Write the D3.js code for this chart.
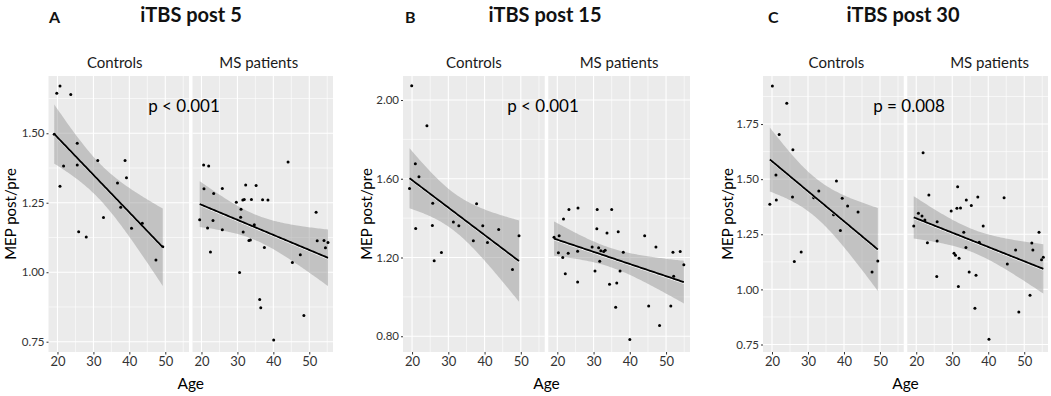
<!DOCTYPE html>
<html>
<head>
<meta charset="utf-8">
<script src="https://cdn.jsdelivr.net/npm/d3@7"></script>
<style>
  body { margin: 0; background: #fff; }
  svg { display: block; font-family: Lato, "Open Sans", sans-serif; }
</style>
</head>
<body>
<div id="chart"></div>
<script>
// ---- data (age in years, MEP post/pre ratio) ----
const post5ControlsAge = [19.8, 20.7, 23.7, 19.1, 20.7, 21.7, 25.5, 25.5, 25.9, 28.0, 31.2, 32.8, 36.7, 37.6, 38.8, 39.2, 40.6, 43.6, 47.4, 49.3];
const post5ControlsMep = [1.644, 1.670, 1.639, 1.496, 1.309, 1.382, 1.464, 1.386, 1.146, 1.127, 1.402, 1.197, 1.321, 1.234, 1.402, 1.340, 1.158, 1.176, 1.044, 1.092];
const post5PatientsAge = [19.5, 20.6, 22.0, 20.7, 21.7, 22.5, 23.2, 23.4, 25.8, 25.8, 29.7, 30.6, 30.9, 31.0, 31.5, 31.9, 31.6, 32.3, 33.2, 33.6, 33.9, 34.7, 35.2, 36.2, 36.5, 37.0, 37.5, 38.5, 40.1, 44.1, 45.3, 47.5, 48.5, 51.9, 52.2, 54.1, 54.5, 55.2];
const post5PatientsMep = [1.189, 1.386, 1.382, 1.300, 1.159, 1.073, 1.186, 1.283, 1.153, 1.301, 1.252, 0.999, 1.198, 1.227, 1.260, 1.262, 1.145, 1.314, 1.114, 1.116, 1.262, 1.171, 1.312, 0.902, 0.872, 1.261, 1.089, 1.260, 0.756, 1.397, 1.035, 1.063, 0.844, 1.216, 1.113, 1.114, 1.088, 1.107];

const post15ControlsAge = [19.9, 24.1, 19.3, 20.9, 21.9, 21.0, 25.7, 25.6, 26.1, 28.1, 31.4, 32.9, 36.9, 37.8, 39.5, 40.8, 43.9, 47.7, 49.5];
const post15ControlsMep = [2.073, 1.869, 1.551, 1.676, 1.610, 1.347, 1.475, 1.363, 1.183, 1.225, 1.380, 1.361, 1.285, 1.473, 1.361, 1.276, 1.342, 1.139, 1.310];
const post15PatientsAge = [19.1, 20.5, 20.3, 21.5, 21.7, 22.2, 23.0, 23.2, 25.6, 25.6, 25.7, 29.6, 30.4, 30.9, 31.0, 31.4, 31.7, 32.0, 32.8, 33.2, 33.7, 34.4, 35.0, 36.1, 36.4, 36.8, 37.3, 38.2, 40.0, 44.1, 45.2, 47.2, 48.2, 51.3, 51.9, 52.1, 53.9, 54.9];
const post15PatientsMep = [1.303, 1.310, 1.224, 1.200, 1.395, 1.117, 1.222, 1.444, 1.232, 1.075, 1.451, 1.254, 1.132, 1.346, 1.444, 1.249, 1.181, 1.234, 1.231, 1.237, 1.325, 1.064, 1.444, 0.947, 1.071, 1.331, 1.131, 1.227, 0.783, 1.310, 0.954, 1.253, 0.854, 0.954, 1.227, 1.105, 1.231, 1.163];

const post30ControlsAge = [20.1, 24.1, 22.0, 25.8, 21.1, 19.4, 21.2, 25.7, 26.2, 28.1, 31.6, 33.0, 37.1, 37.9, 39.0, 39.5, 41.0, 43.9, 47.8, 49.4];
const post30ControlsMep = [1.923, 1.844, 1.703, 1.634, 1.519, 1.386, 1.406, 1.419, 1.126, 1.170, 1.416, 1.446, 1.339, 1.492, 1.267, 1.413, 1.378, 1.351, 1.079, 1.129];
const post30PatientsAge = [19.3, 20.6, 21.6, 21.9, 22.4, 23.1, 23.5, 25.7, 25.8, 25.8, 29.7, 30.5, 30.9, 31.3, 31.5, 31.7, 31.9, 32.3, 33.2, 33.8, 33.9, 34.7, 35.3, 36.3, 36.6, 37.1, 37.5, 38.6, 40.2, 44.4, 45.3, 47.6, 48.5, 51.6, 52.1, 52.4, 54.1, 54.8, 55.3];
const post30PatientsMep = [1.288, 1.345, 1.333, 1.620, 1.315, 1.212, 1.428, 1.058, 1.307, 1.220, 1.356, 1.164, 1.155, 1.368, 1.466, 1.013, 1.141, 1.369, 1.259, 1.190, 1.406, 1.079, 1.381, 0.914, 1.064, 1.419, 1.214, 1.288, 0.774, 1.416, 1.115, 1.179, 0.898, 0.973, 1.211, 1.179, 1.259, 1.134, 1.146];

const groupNames = ["Controls", "MS patients"];
const panelLetters = ["A", "B", "C"];
const panelTitles = ["iTBS post 5", "iTBS post 15", "iTBS post 30"];
const pLabels = ["p < 0.001", "p < 0.001", "p = 0.008"];
const ageTicks = [20, 30, 40, 50];
const yTicksA = [0.75, 1.00, 1.25, 1.50];
const yTicksB = [0.80, 1.20, 1.60, 2.00];
const yTicksC = [0.75, 1.00, 1.25, 1.50, 1.75];

// ---- layout ----
const width = 1051, height = 396;
const plotTop = 76, plotBottom = 352, facetGap = 3.5;
const ageDomain = [17.5, 56.6];

const panels = [
    { x0: 48.5, x1: 333, yDomain: [0.713, 1.706], yTicks: yTicksA, yMinor: [0.875, 1.125, 1.375, 1.625],
      ageSeries: [post5ControlsAge, post5PatientsAge], mepSeries: [post5ControlsMep, post5PatientsMep],
      letterX: 49, titleX: 191, pX: 184, yTitleX: 11, stripDx: [-4, -4] },
    { x0: 403, x1: 690, yDomain: [0.72, 2.122], yTicks: yTicksB, yMinor: [1.0, 1.4, 1.8],
      ageSeries: [post15ControlsAge, post15PatientsAge], mepSeries: [post15ControlsMep, post15PatientsMep],
      letterX: 405, titleX: 545, pX: 543, yTitleX: 367, stripDx: [0, 0] },
    { x0: 763, x1: 1048, yDomain: [0.716, 1.968], yTicks: yTicksC, yMinor: [0.875, 1.125, 1.375, 1.625, 1.875],
      ageSeries: [post30ControlsAge, post30PatientsAge], mepSeries: [post30ControlsMep, post30PatientsMep],
      letterX: 768, titleX: 903, pX: 909, yTitleX: 728, stripDx: [3, 12] }
];

// linear fit with 95% confidence band, like geom_smooth(method = "lm")
function fitLm(xs, ys) {
    const n = xs.length;
    const mx = d3.mean(xs), my = d3.mean(ys);
    const sxx = d3.sum(xs, x => (x - mx) ** 2);
    const sxy = d3.sum(xs, (x, i) => (x - mx) * (ys[i] - my));
    const b = sxy / sxx, a = my - b * mx;
    const s = Math.sqrt(d3.sum(xs, (x, i) => (ys[i] - a - b * x) ** 2) / (n - 2));
    const df = n - 2, z = 1.959964;
    const t = z + (z ** 3 + z) / (4 * df) + (5 * z ** 5 + 16 * z ** 3 + 3 * z) / (96 * df * df);
    const [lo, hi] = d3.extent(xs);
    return d3.range(80).map(i => {
        const x = lo + (hi - lo) * i / 79;
        const fit = a + b * x;
        const se = s * Math.sqrt(1 / n + (x - mx) ** 2 / sxx);
        return { x, fit, lo: fit - t * se, hi: fit + t * se };
    });
}

const svg = d3.select("#chart").append("svg")
    .attr("width", width)
    .attr("height", height)
    .attr("viewBox", `0 0 ${width} ${height}`);

panels.forEach((p, pi) => {
    const facetW = (p.x1 - p.x0 - facetGap) / 2;
    const y = d3.scaleLinear().domain(p.yDomain).range([plotBottom, plotTop]);
    const g = svg.append("g");

    // panel letter and title
    g.append("text")
        .attr("x", p.letterX).attr("y", 23)
        .attr("font-size", 16).attr("font-weight", "bold").attr("fill", "#111")
        .text(panelLetters[pi]);
    g.append("text")
        .attr("x", p.titleX).attr("y", 22)
        .attr("text-anchor", "middle")
        .attr("font-size", 20).attr("font-weight", "bold").attr("fill", "#111")
        .text(panelTitles[pi]);

    groupNames.forEach((name, gi) => {
        const fx = p.x0 + gi * (facetW + facetGap);
        const x = d3.scaleLinear().domain(ageDomain).range([fx, fx + facetW]);
        const fg = g.append("g");

        // panel background and grid
        fg.append("rect")
            .attr("x", fx).attr("y", plotTop)
            .attr("width", facetW).attr("height", plotBottom - plotTop)
            .attr("fill", "#ebebeb");

        fg.selectAll(".ygrid-minor").data(p.yMinor).join("line")
            .attr("x1", fx).attr("x2", fx + facetW)
            .attr("y1", d => y(d)).attr("y2", d => y(d))
            .attr("stroke", "#fff").attr("stroke-width", 0.6);
        fg.selectAll(".xgrid-minor").data([25, 35, 45, 55]).join("line")
            .attr("x1", d => x(d)).attr("x2", d => x(d))
            .attr("y1", plotTop).attr("y2", plotBottom)
            .attr("stroke", "#fff").attr("stroke-width", 0.6);
        fg.append("g").selectAll("line").data(p.yTicks).join("line")
            .attr("x1", fx).attr("x2", fx + facetW)
            .attr("y1", d => y(d)).attr("y2", d => y(d))
            .attr("stroke", "#fff").attr("stroke-width", 1.1);
        fg.append("g").selectAll("line").data(ageTicks).join("line")
            .attr("x1", d => x(d)).attr("x2", d => x(d))
            .attr("y1", plotTop).attr("y2", plotBottom)
            .attr("stroke", "#fff").attr("stroke-width", 1.1);

        // strip label
        fg.append("text")
            .attr("x", fx + facetW / 2 + p.stripDx[gi]).attr("y", 68)
            .attr("text-anchor", "middle")
            .attr("font-size", 15).attr("fill", "#1a1a1a")
            .text(name);

        // smooth band + line
        const ages = p.ageSeries[gi], meps = p.mepSeries[gi];
        const fit = fitLm(ages, meps);
        fg.append("path")
            .datum(fit)
            .attr("fill", "#999999").attr("fill-opacity", 0.5)
            .attr("d", d3.area().x(d => x(d.x)).y0(d => y(d.lo)).y1(d => y(d.hi)));

        // points
        fg.append("g").selectAll("circle")
            .data(ages.map((a, i) => [a, meps[i]]))
            .join("circle")
            .attr("cx", d => x(d[0])).attr("cy", d => y(d[1]))
            .attr("r", 1.5).attr("fill", "#000");

        fg.append("path")
            .datum(fit)
            .attr("fill", "none").attr("stroke", "#fff").attr("stroke-width", 1)
            .attr("transform", "translate(0,1.3)")
            .attr("d", d3.line().x(d => x(d.x)).y(d => y(d.fit)));
        fg.append("path")
            .datum(fit)
            .attr("fill", "none").attr("stroke", "#000").attr("stroke-width", 1.8)
            .attr("d", d3.line().x(d => x(d.x)).y(d => y(d.fit)));

        // x axis
        const xAxis = fg.append("g")
            .attr("transform", `translate(0,${plotBottom})`)
            .call(d3.axisBottom(x).tickValues(ageTicks).tickSize(2.5).tickPadding(2));
        xAxis.select(".domain").remove();
        xAxis.selectAll("line").attr("stroke", "#333");
        xAxis.selectAll("text")
            .attr("font-family", "Lato, sans-serif")
            .attr("font-size", 13).attr("fill", "#333");

        // y axis only on the first facet
        if (gi === 0) {
            const yAxis = fg.append("g")
                .attr("transform", `translate(${fx},0)`)
                .call(d3.axisLeft(y).tickValues(p.yTicks).tickFormat(d3.format(".2f")).tickSize(2).tickPadding(2));
            yAxis.select(".domain").remove();
            yAxis.selectAll("line").attr("stroke", "#333");
            yAxis.selectAll("text")
                .attr("font-family", "Lato, sans-serif")
                .attr("font-size", 11.5).attr("fill", "#333");
        }
    });

    // p value annotation
    g.append("text")
        .attr("x", p.pX).attr("y", 112)
        .attr("text-anchor", "middle")
        .attr("font-size", 17).attr("fill", "#000")
        .text(pLabels[pi]);

    // axis titles
    g.append("text")
        .attr("x", (p.x0 + p.x1) / 2).attr("y", 389)
        .attr("text-anchor", "middle")
        .attr("font-size", 15.5).attr("fill", "#000")
        .text("Age");
    g.append("text")
        .attr("transform", `translate(${p.yTitleX + 5},${(plotTop + plotBottom) / 2}) rotate(-90)`)
        .attr("text-anchor", "middle")
        .attr("font-size", 15).attr("fill", "#000")
        .text("MEP post/pre");
});
</script>
</body>
</html>
